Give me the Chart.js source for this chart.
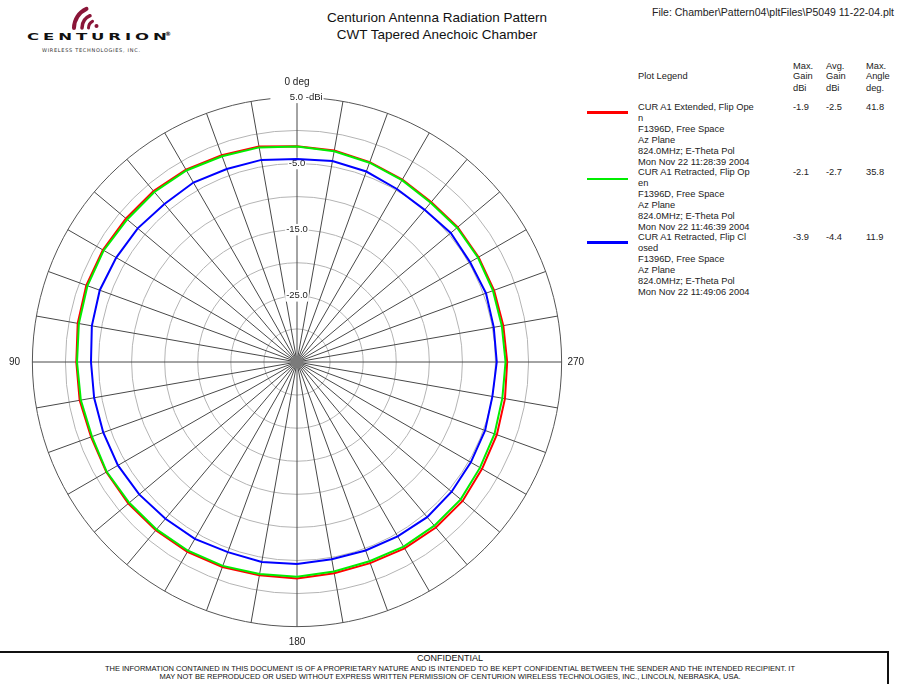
<!DOCTYPE html>
<html><head><meta charset="utf-8">
<script src="https://cdn.jsdelivr.net/npm/chart.js@4.4.1/dist/chart.umd.min.js"></script>
<style>
html,body{margin:0;padding:0;background:#fff;}
body{width:899px;height:684px;position:relative;overflow:hidden;font-family:"Liberation Sans",Arial,sans-serif;color:#111;}
.abs{position:absolute;white-space:pre;}
</style></head><body>

<!-- logo -->
<svg class="abs" style="left:0;top:0" width="120" height="60">
  <g fill="none" stroke="#8a1538" stroke-linecap="round">
    <path d="M74 28 A21 21 0 0 1 86.5 8.9" stroke-width="4"/>
    <path d="M82 28 A13.5 13.5 0 0 1 90 15.7" stroke-width="3.5"/>
    <path d="M88.5 28 A7.5 7.5 0 0 1 92.5 21.3" stroke-width="3"/>
  </g>
  <circle cx="96.5" cy="26" r="2" fill="#8a1538"/>
</svg>
<div class="abs" style="left:27px;top:31px;font:900 11px 'DejaVu Sans';letter-spacing:2.6px;transform:scaleX(1.5) scaleY(0.85);transform-origin:0 0;color:#111">CENTURION</div>
<div class="abs" style="left:165px;top:30px;font:bold 6px 'DejaVu Sans';color:#111">®</div>
<div class="abs" style="left:42px;top:47px;font:5px 'DejaVu Sans';letter-spacing:0.7px;color:#333">WIRELESS TECHNOLOGIES, INC.</div>

<!-- titles -->
<div class="abs" style="left:237px;width:400px;text-align:center;top:8.5px;font-size:13.5px;line-height:17px;color:#111">Centurion Antenna Radiation Pattern</div>
<div class="abs" style="left:237px;width:400px;text-align:center;top:25.5px;font-size:13.5px;line-height:17px;color:#111">CWT Tapered Anechoic Chamber</div>
<div class="abs" style="left:652px;top:5px;font-size:10.5px;line-height:14px;color:#222">File: Chamber\Pattern04\pltFiles\P5049 11-22-04.plt</div>

<div id="legend"></div>

<div class="abs" style="left:9px;top:75px;width:576px;height:576px"><canvas id="c"></canvas></div>

<!-- confidential box -->
<div class="abs" style="left:0;top:651px;width:887px;height:40px;border-top:2px solid #111;border-right:2px solid #111"></div>
<div class="abs" style="left:0;width:900px;text-align:center;top:652.5px;font-size:9px;line-height:11px;color:#111">CONFIDENTIAL</div>
<div class="abs" style="left:0;width:900px;text-align:center;top:664.5px;font-size:7.5px;line-height:8px;color:#111">THE INFORMATION CONTAINED IN THIS DOCUMENT IS OF A PROPRIETARY NATURE AND IS INTENDED TO BE KEPT CONFIDENTIAL BETWEEN THE SENDER AND THE INTENDED RECIPIENT. IT
MAY NOT BE REPRODUCED OR USED WITHOUT EXPRESS WRITTEN PERMISSION OF CENTURION WIRELESS TECHNOLOGIES, INC., LINCOLN, NEBRASKA, USA.</div>

<script>
// ---- data ----
const anglesDeg = [0,10,20,30,40,50,60,70,80,90,100,110,120,130,140,150,160,170,180,190,200,210,220,230,240,250,260,270,280,290,300,310,320,330,340,350];
const redGain   = [-2.40,-1.94,-1.72,-1.42,-1.26,-1.26,-1.11,-1.11,-1.34,-1.64,-1.64,-1.87,-1.72,-1.72,-1.79,-1.87,-2.02,-2.25,-2.29,-2.58,-2.65,-2.47,-2.35,-2.32,-2.70,-2.85,-3.08,-3.23,-3.33,-3.30,-3.30,-3.30,-3.45,-3.15,-2.85,-2.55];
const greenGain = [-2.44,-2.06,-1.90,-1.57,-1.46,-1.49,-1.26,-1.29,-1.52,-1.75,-1.82,-2.02,-1.79,-1.90,-1.97,-2.06,-2.20,-2.47,-2.55,-2.85,-2.95,-2.77,-2.70,-2.70,-3.06,-3.23,-3.48,-3.48,-3.56,-3.48,-3.42,-3.41,-3.56,-3.26,-2.94,-2.65];
const blueGain  = [-4.31,-3.98,-3.95,-3.68,-3.83,-3.57,-3.45,-3.27,-3.51,-3.86,-3.86,-3.83,-3.75,-3.86,-4.07,-4.12,-4.42,-4.30,-4.46,-4.74,-4.68,-4.57,-4.39,-4.49,-4.66,-4.74,-5.01,-4.81,-4.80,-4.60,-4.80,-4.66,-4.98,-4.80,-4.36,-4.15];
const rMin = -35, rMax = 5, rStep = 5;
const labeledTicks = [5, -5, -15, -25];
const cardinalLabels = {'0':'0 deg','90':'90','180':'180','270':'270'};

const seriesColors = ['#ff0000','#00ee00','#0000ff'];
const seriesText = [
  ['CUR A1 Extended, Flip Ope','n','F1396D, Free Space','Az Plane','824.0MHz; E-Theta Pol','Mon Nov 22 11:28:39 2004'],
  ['CUR A1 Retracted, Flip Op','en','F1396D, Free Space','Az Plane','824.0MHz; E-Theta Pol','Mon Nov 22 11:46:39 2004'],
  ['CUR A1 Retracted, Flip Cl','osed','F1396D, Free Space','Az Plane','824.0MHz; E-Theta Pol','Mon Nov 22 11:49:06 2004']
];
const maxGain = ['-1.9','-2.1','-3.9'];
const avgGain = ['-2.5','-2.7','-4.4'];
const maxAngle = ['41.8','35.8','11.9'];

// ---- legend (HTML table-like layout) ----
(function(){
  const L = document.getElementById('legend');
  const add = (html, css) => { const d=document.createElement('div'); d.className='abs'; d.style.cssText=css; d.textContent=html; L.appendChild(d); return d; };
  const fs = 'font-size:9.3px;line-height:11px;color:#222;';
  add('Plot Legend', fs+'left:638px;top:70.5px;');
  const hdr = [['Max.','Gain','dBi'],['Avg.','Gain','dBi'],['Max.','Angle','deg.']];
  const hx = [793, 826, 866], hy = [60.5, 70.8, 82.8];
  hdr.forEach((col,ci)=>col.forEach((t,ri)=>add(t, fs+'left:'+hx[ci]+'px;top:'+hy[ri]+'px;')));
  const lineH = 10.84;
  seriesText.forEach((lines,si)=>{
    const top0 = 102.3 + si*6*lineH;
    lines.forEach((t,li)=>add(t, fs+'left:638px;top:'+(top0+li*lineH)+'px;'));
    add(maxGain[si], fs+'left:793px;top:'+top0+'px;');
    add(avgGain[si], fs+'left:826px;top:'+top0+'px;');
    add(maxAngle[si], fs+'left:866px;top:'+top0+'px;');
    const sw = document.createElement('div'); sw.className='abs';
    sw.style.cssText='left:587px;width:41px;height:2.5px;background:'+seriesColors[si]+';top:'+([111,177.5,241][si])+'px;';
    L.appendChild(sw);
  });
})();

// ---- chart ----
// Reference angles increase counter-clockwise (90 on the left); radar indices go clockwise.
const order = anglesDeg.map((_, i) => (anglesDeg.length - i) % anglesDeg.length);
const labels = order.map(k => String(anglesDeg[k]));
const pick = arr => order.map(k => arr[k]);

const centerDot = {
  id: 'centerDot',
  afterDatasetsDraw(chart) {
    const s = chart.scales.r, c = chart.ctx;
    c.save(); c.beginPath(); c.arc(s.xCenter, s.yCenter, 6, 0, Math.PI*2);
    c.fillStyle = '#7b7b7b'; c.fill(); c.restore();
  }
};
const FAM = "'Liberation Sans', Arial, sans-serif";
const lastTick = Math.round((rMax - rMin)/rStep);
// padding keyed by the displayed point label text
const plPad = {'0 deg':3, '90':6.5, '180':4, '270':0};

new Chart(document.getElementById('c'), {
  type: 'radar',
  data: {
    labels,
    datasets: [
      {label:'CUR A1 Extended, Flip Open', data: pick(redGain), borderColor: seriesColors[0], borderWidth: 2, order: 2},
      {label:'CUR A1 Retracted, Flip Open', data: pick(greenGain), borderColor: seriesColors[1], borderWidth: 2, order: 1},
      {label:'CUR A1 Retracted, Flip Closed', data: pick(blueGain), borderColor: seriesColors[2], borderWidth: 2, order: 0}
    ]
  },
  options: {
    responsive: true, maintainAspectRatio: false, animation: false,
    layout: {padding: 0},
    elements: {point: {radius: 0, hoverRadius: 0}, line: {fill: false, tension: 0}},
    plugins: {legend: {display: false}, tooltip: {enabled: false}},
    scales: {
      r: {
        min: rMin, max: rMax, startAngle: 0,
        ticks: {
          stepSize: rStep,
          font: {size: 9.5, family: FAM}, color: '#222',
          callback: v => labeledTicks.includes(v) ? (v === rMax ? '       ' + v.toFixed(1) + ' -dBi' : v.toFixed(1)) : '',
          backdropColor: c => (c.tick && c.tick.label) ? '#ffffff' : 'rgba(0,0,0,0)',
          backdropPadding: 1
        },
        grid: {
          circular: true, lineWidth: 1,
          color: c => c.index === lastTick ? '#555' : '#b4b4b4'
        },
        angleLines: {display: true, color: '#484848', lineWidth: 1},
        pointLabels: {
          display: true,
          font: {size: 10, family: FAM}, color: '#222',
          padding: c => (plPad[c.label] !== undefined ? plPad[c.label] : 0),
          callback: l => cardinalLabels[l] !== undefined ? cardinalLabels[l] : []
        }
      }
    }
  },
  plugins: [centerDot]
});
</script>
</body></html>
